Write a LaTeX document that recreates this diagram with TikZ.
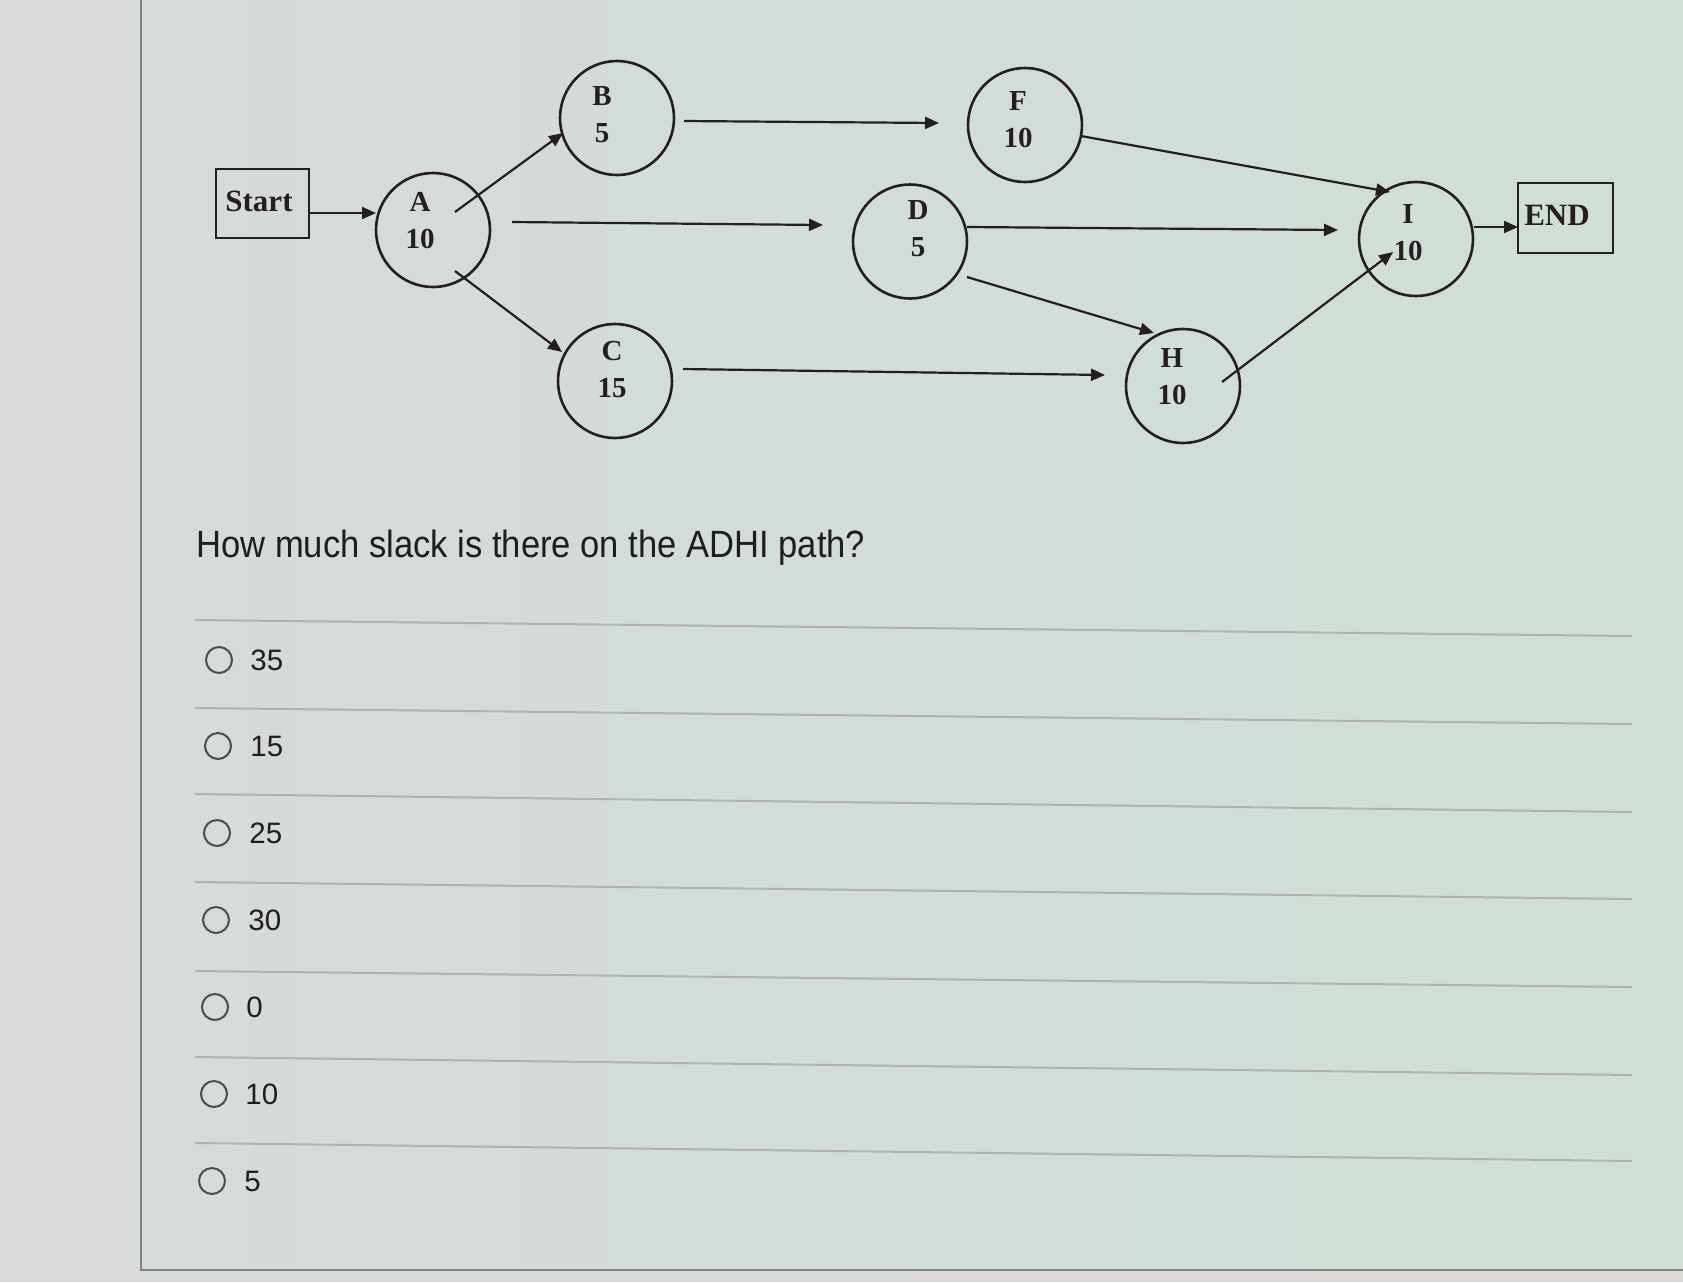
\documentclass[tikz,border=0pt]{standalone}
\usepackage{graphicx}
\usepackage{fontspec}
\setmainfont{Liberation Serif}
\newfontfamily\uisans{Liberation Sans}
\usetikzlibrary{arrows.meta,calc}
\definecolor{bgout}{HTML}{D9DBDA}
\definecolor{panL}{HTML}{D6DAD8}
\definecolor{panR}{HTML}{CFDFD6}
\definecolor{ink}{HTML}{241E21}
\definecolor{rule}{HTML}{AEB3B0}
\definecolor{frame}{HTML}{7E8381}
\definecolor{txt}{HTML}{1F1D1F}
\definecolor{radio}{HTML}{4C4C4E}
\begin{document}
\begin{tikzpicture}[x=0.5pt,y=-0.5pt,
  evt/.style={circle,draw=ink,line width=1.3pt,minimum size=57pt,inner sep=0pt},
  termbox/.style={rectangle,draw=ink,line width=1.1pt,inner sep=0pt},
  lab/.style={font=\bfseries\fontsize{14.5}{18.5}\selectfont,text=ink,align=center,inner sep=0pt},
  biglab/.style={font=\bfseries\fontsize{15.5}{18}\selectfont,text=ink,inner sep=0pt},
  arr/.style={draw=ink,line width=1.1pt,-{Triangle[length=7pt,width=6pt]}},
  sep/.style={draw=rule,line width=1pt},
  rad/.style={circle,draw=radio,line width=1pt,minimum size=13pt,inner sep=0pt},
  opt/.style={font=\uisans\fontsize{14.75}{16}\selectfont,text=txt,anchor=west,inner sep=0pt},
]
\useasboundingbox (0,0) rectangle (1683,1282);
\fill[bgout] (0,0) rectangle (1683,1282);
\shade[left color=panL,right color=panR] (141,0) rectangle (1683,1270);
\draw[frame,line width=1pt] (141,0) -- (141,1270) -- (1683,1270);

% terminals
\node[termbox,minimum width=46.5pt,minimum height=34.5pt] (start) at (262.5,203.5) {};
\node[biglab] (startlab) at (259,201) {Start};
\node[termbox,minimum width=47.5pt,minimum height=35pt] (end) at (1565.5,218) {};
\node[biglab] (endlab) at (1557,215) {END};

% events
\node[evt] (A) at (433,230) {};
\node[lab] (Alab) at (420,221) {A\\10};
\node[evt] (B) at (617,118) {};
\node[lab] (Blab) at (602,115) {B\\5};
\node[evt] (F) at (1025,125) {};
\node[lab] (Flab) at (1018,120) {F\\10};
\node[evt] (D) at (910,241.5) {};
\node[lab] (Dlab) at (918,229) {D\\5};
\node[evt] (C) at (615,381) {};
\node[lab] (Clab) at (612,370) {C\\15};
\node[evt] (H) at (1183,386) {};
\node[lab] (Hlab) at (1172,377) {H\\10};
\node[evt] (I) at (1416,239) {};
\node[lab] (Ilab) at (1408,233) {I\\10};

% connectors
\draw[arr] ($(start)+(46.5,9.5)$) -- ($(A)+(-57,-17)$);
\draw[arr] ($(A)+(22,-18)$) -- ($(B)+(-54,15)$);
\draw[arr] ($(A)+(79,-8)$) -- ($(D)+(-87,-16.5)$);
\draw[arr] ($(A)+(22,41)$) -- ($(C)+(-53,-29)$);
\draw[arr] ($(B)+(67,3)$) -- ($(F)+(-86,-2)$);
\draw[arr] ($(F)+(56,11)$) -- ($(I)+(-26,-47)$);
\draw[arr] ($(D)+(57,-14.5)$) -- ($(I)+(-78,-9)$);
\draw[arr] ($(D)+(57,35.5)$) -- ($(H)+(-29,-53)$);
\draw[arr] ($(C)+(68,-12)$) -- ($(H)+(-78,-11)$);
\draw[arr] ($(H)+(39,-4)$) -- ($(I)+(-23,13)$);
\draw[arr] ($(I)+(58,-12)$) -- ($(end)+(-47.5,9)$);

% question
\node[font=\uisans\fontsize{19}{22}\selectfont,text=txt,anchor=base west,inner sep=0pt] (q) at (196,557)
  {\scalebox{0.91}[1]{How much slack is there on the ADHI path?}};

% separators
\draw[sep] (195,620) -- (1632,636);
\draw[sep] (195,708) -- (1632,724);
\draw[sep] (195,794) -- (1632,812);
\draw[sep] (195,882) -- (1632,899);
\draw[sep] (195,971) -- (1632,987);
\draw[sep] (195,1057) -- (1632,1075);
\draw[sep] (195,1143) -- (1632,1161);

% options
\node[rad] (r1) at (219,660) {};
\node[opt] (o1) at (250,660) {35};
\node[rad] (r2) at (218,746) {};
\node[opt] (o2) at (250,746) {15};
\node[rad] (r3) at (217,833) {};
\node[opt] (o3) at (249,833) {25};
\node[rad] (r4) at (216,920) {};
\node[opt] (o4) at (248,920) {30};
\node[rad] (r5) at (215,1007) {};
\node[opt] (o5) at (246,1007) {0};
\node[rad] (r6) at (214,1094) {};
\node[opt] (o6) at (245,1094) {10};
\node[rad] (r7) at (212,1181) {};
\node[opt] (o7) at (244,1181) {5};
\end{tikzpicture}
\end{document}
